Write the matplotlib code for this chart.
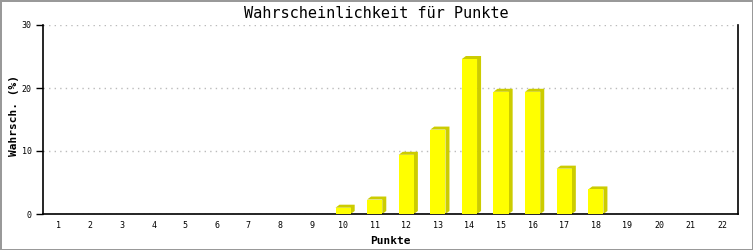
import matplotlib
matplotlib.use("Agg")
import matplotlib.pyplot as plt
from matplotlib.patches import Polygon

categories = list(range(1, 23))
values = [0, 0, 0, 0, 0, 0, 0, 0, 0, 1.0, 2.3, 9.4, 13.4, 24.6, 19.4, 19.4, 7.2, 3.9, 0, 0, 0, 0]
yticks = [0, 10, 20, 30]

W, H = 753, 250
fig = plt.figure(figsize=(W / 100, H / 100), dpi=100)
fig.patch.set_facecolor("white")
fig.patch.set_edgecolor("#999999")
fig.patch.set_linewidth(2)

ax = fig.add_axes([43 / W, 1 - 214 / H, (738 - 43) / W, (214 - 25) / H])
ax.set_xlim(0.5, 22.5)
ax.set_ylim(0, 30)

mono = "DejaVu Sans Mono"
bw = 0.48
# 3D depth in pixels converted to data units
px_x = (22.5 - 0.5) / ((738 - 43))
px_y = 30 / (214 - 25)
dx, dy = 4 * px_x, 3 * px_y

for c, v in zip(categories, values):
    if v <= 0:
        continue
    x0, x1 = c - bw / 2, c + bw / 2
    poly = Polygon([(x0, v), (x0 + dx, v + dy), (x1 + dx, v + dy), (x1 + dx, dy), (x1, 0), (x1, v)],
                   closed=True, facecolor="#cccc00", edgecolor="none", zorder=2, clip_on=False)
    ax.add_patch(poly)
ax.bar([c for c, v in zip(categories, values) if v > 0],
       [v for v in values if v > 0], width=bw, color="#ffff00", edgecolor="none", zorder=3)

ax.set_yticks(yticks)
ax.set_xticks(categories)
ax.set_xticklabels([str(c) for c in categories], family=mono, fontsize=6)
ax.set_yticklabels([str(t) for t in yticks], family=mono, fontsize=6)
ax.tick_params(axis="x", length=0, pad=5)
ax.tick_params(axis="y", length=5, width=1, pad=3, direction="out")
ax.grid(axis="y", color="#bbbbbb", linestyle=(0, (1, 3)), linewidth=1, zorder=1)
ax.set_axisbelow(True)
for s in ["left", "bottom", "right"]:
    ax.spines[s].set_color("black")
    ax.spines[s].set_linewidth(1.2)
ax.spines["top"].set_visible(False)

fig.text(0.5, 1 - 13 / H, "Wahrscheinlichkeit für Punkte", family=mono, fontsize=11,
         ha="center", va="center")
ax.set_xlabel("Punkte", family=mono, fontsize=8, fontweight="bold", labelpad=4)
ax.set_ylabel("Wahrsch. (%)", family=mono, fontsize=8, fontweight="bold")
ax.yaxis.set_label_coords(-0.034, 0.52)

fig.savefig("out.png", dpi=100)
